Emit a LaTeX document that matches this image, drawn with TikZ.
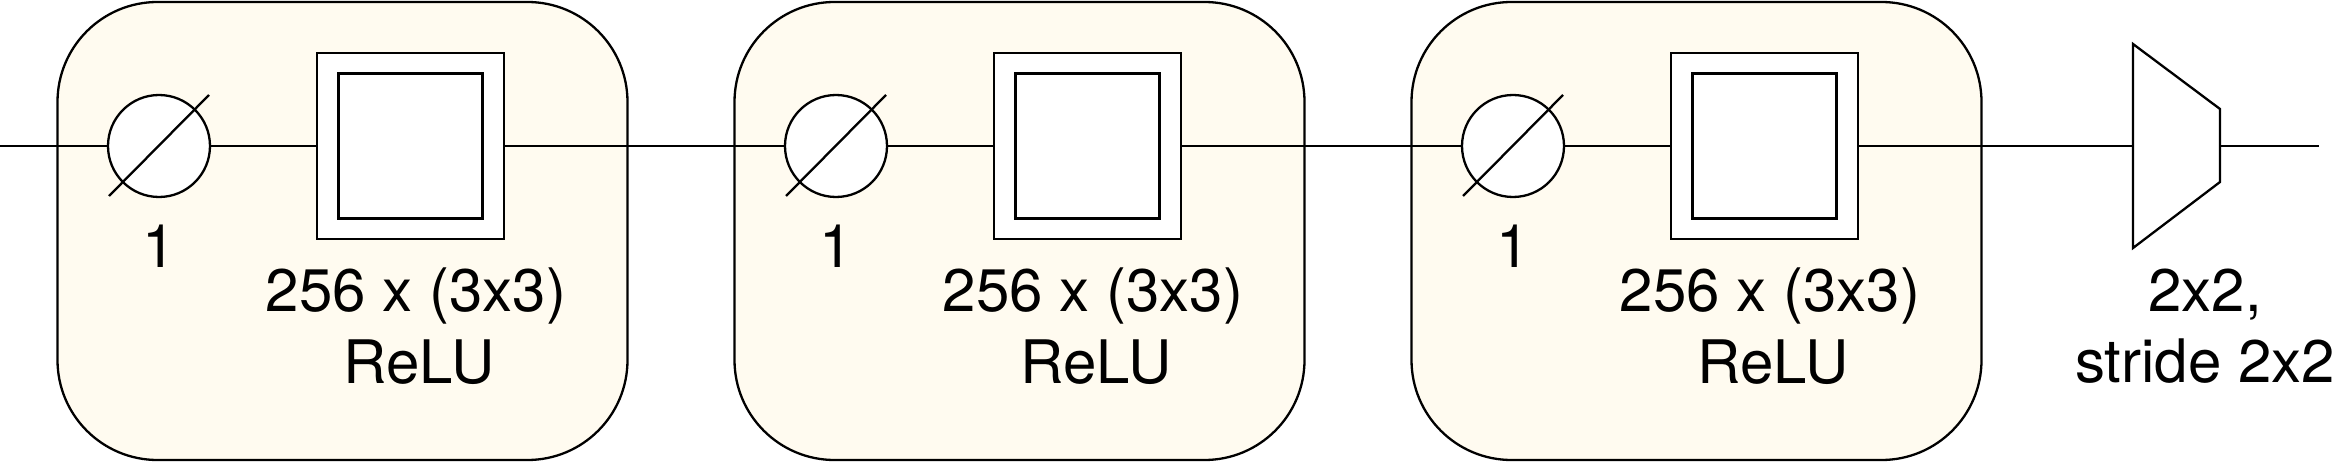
\documentclass[tikz,border=0pt]{standalone}
\usepackage{fontspec}
\setmainfont{TeX Gyre Heros}
\definecolor{cream}{RGB}{255,251,240}
\begin{document}
\begin{tikzpicture}[x=1pt,y=-1pt,line width=2.3pt,
  block/.style={draw,fill=cream,rounded corners=100pt,minimum width=570pt,minimum height=458pt,inner sep=0pt},
  dropc/.style={draw,circle,fill=white,minimum size=102pt,inner sep=0pt},
  sqout/.style={draw,fill=white,minimum width=187pt,minimum height=186pt,inner sep=0pt},
  sqin/.style={draw,fill=white,minimum width=144pt,minimum height=145pt,inner sep=0pt},
  lbl/.style={font=\fontsize{60}{72}\selectfont,anchor=base,inner sep=0pt}]
\useasboundingbox (0,0) rectangle (2335,465);
\foreach \i/\dx in {1/0,2/677,3/1354} {
  \node[block] (b\i) at (342.5+\dx,231) {};
  \node[dropc] (c\i) at (159+\dx,146) {};
  \draw ([shift={(-50,50)}]c\i.center) -- ([shift={(50,-51)}]c\i.center);
  \node[sqout] (s\i) at (410.5+\dx,146) {};
  \node[sqin] (si\i) at (s\i.center) {};
  \node[lbl] (n\i) at (159+\dx,267) {1};
  \node[lbl] (k\i) at (416+\dx,311) {256 x (3x3)};
  \node[lbl] (r\i) at (419+\dx,383) {ReLU};
}
\draw[fill=white] (2133,44) -- (2220,109) -- (2220,182) -- (2133,248) -- cycle;
\coordinate (pw) at (2133,146);
\coordinate (pe) at (2220,146);
\coordinate (in) at (0,146);
\coordinate (out) at (2319,146);
\node[lbl] (p1) at (2205,311) {2x2,};
\node[lbl] (p2) at (2205,382) {stride 2x2};
\draw (in) -- (c1);
\draw (c1) -- (s1);
\draw (s1) -- (c2);
\draw (c2) -- (s2);
\draw (s2) -- (c3);
\draw (c3) -- (s3);
\draw (s3) -- (pw);
\draw (pe) -- (out);
\end{tikzpicture}
\end{document}
